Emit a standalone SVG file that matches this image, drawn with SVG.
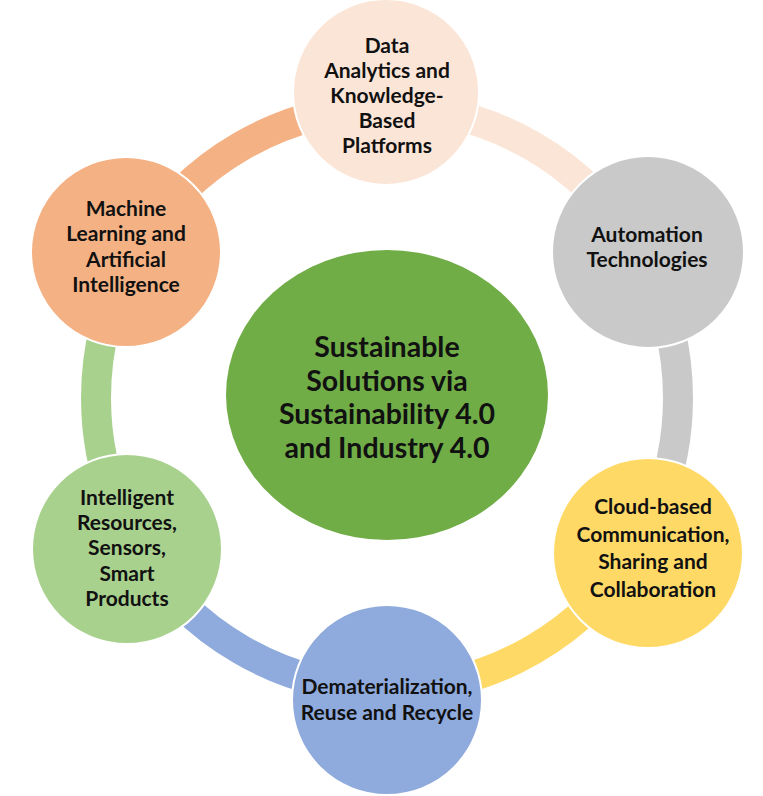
<svg xmlns="http://www.w3.org/2000/svg" width="763" height="796" viewBox="0 0 763 796">
<style>
.arc{fill:none;stroke-width:30}
.node{stroke:#fff;stroke-width:2}
.t{font-family:Lato,"Open Sans","Liberation Sans",sans-serif;font-weight:bold;font-size:21px;fill:#111;text-anchor:middle}
.c{font-size:28.5px}
</style>
<rect width="763" height="796" fill="#fff"/>
<g id="connectors">
<path class="arc" stroke="#FBE5D6" d="M387 107 A291 291 0 0 1 639 252.5"/>
<path class="arc" stroke="#C9C9C9" d="M639 252.5 A291 291 0 0 1 639 543.5"/>
<path class="arc" stroke="#FFD966" d="M639 543.5 A291 291 0 0 1 387 689"/>
<path class="arc" stroke="#8FAADC" d="M387 689 A291 291 0 0 1 135 543.5"/>
<path class="arc" stroke="#A9D18E" d="M135 543.5 A291 291 0 0 1 135 252.5"/>
<path class="arc" stroke="#F4B183" d="M135 252.5 A291 291 0 0 1 387 107"/>
</g>
<g id="center">
<ellipse cx="387" cy="395" rx="161" ry="145" fill="#70AD47"/>
<text class="t c" x="387" y="357">Sustainable</text>
<text class="t c" x="387" y="391">Solutions via</text>
<text class="t c" x="387" y="424">Sustainability 4.0</text>
<text class="t c" x="387" y="458">and Industry 4.0</text>
</g>
<g id="data">
<circle class="node" cx="386" cy="92" r="93" fill="#FBE5D6"/>
<text class="t" x="387" y="53">Data</text>
<text class="t" x="387" y="78">Analytics and</text>
<text class="t" x="387" y="103">Knowledge-</text>
<text class="t" x="387" y="128">Based</text>
<text class="t" x="387" y="153">Platforms</text>
</g>
<g id="automation">
<circle class="node" cx="648" cy="252" r="96" fill="#C9C9C9"/>
<text class="t" x="647" y="242">Automation</text>
<text class="t" x="647" y="267">Technologies</text>
</g>
<g id="cloud">
<circle class="node" cx="648" cy="553" r="95" fill="#FFD966"/>
<text class="t" x="653" y="514">Cloud-based</text>
<text class="t" x="653" y="542">Communication,</text>
<text class="t" x="653" y="569">Sharing and</text>
<text class="t" x="653" y="597">Collaboration</text>
</g>
<g id="dematerialization">
<circle class="node" cx="387" cy="700" r="95" fill="#8FAADC"/>
<text class="t" x="387" y="694">Dematerialization,</text>
<text class="t" x="387" y="720">Reuse and Recycle</text>
</g>
<g id="intelligent">
<circle class="node" cx="127" cy="549" r="95" fill="#A9D18E"/>
<text class="t" x="127" y="505">Intelligent</text>
<text class="t" x="127" y="530">Resources,</text>
<text class="t" x="127" y="555">Sensors,</text>
<text class="t" x="127" y="581">Smart</text>
<text class="t" x="127" y="606">Products</text>
</g>
<g id="machine">
<circle class="node" cx="126" cy="252" r="95" fill="#F4B183"/>
<text class="t" x="126" y="216">Machine</text>
<text class="t" x="126" y="241">Learning and</text>
<text class="t" x="126" y="267">Artificial</text>
<text class="t" x="126" y="292">Intelligence</text>
</g>
</svg>
